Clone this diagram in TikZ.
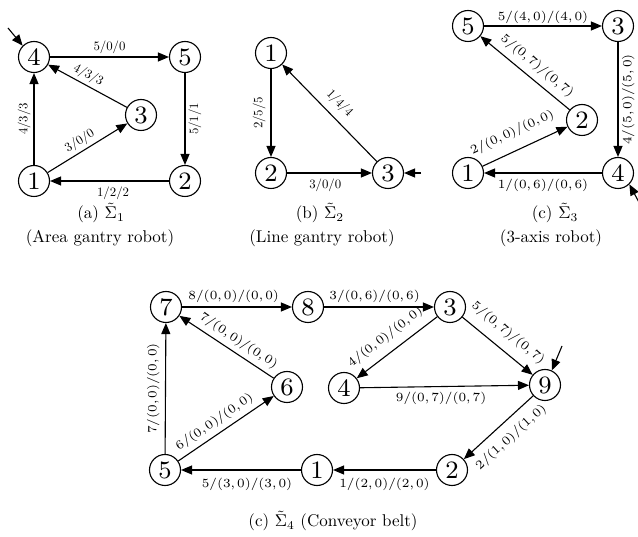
\documentclass[tikz,border=0pt]{standalone}
\usetikzlibrary{arrows.meta}
\font\nfnt="[lmroman8-regular]" at 25pt
\font\lfa="[lmroman10-regular]" at 12.8pt
\font\lfb="[lmroman6-regular]" at 12.5pt
\tikzset{
  st/.style={circle, draw, line width=1.1pt, minimum size=31pt, inner sep=0pt, font=\nfnt},
  ed/.style={-{Triangle[length=11pt,width=9pt]}, line width=1.1pt},
  la/.style={font=\lfa, inner sep=3pt},
  lb/.style={font=\lfb, inner sep=3pt},
  captxt/.style={scale=1.7, inner sep=0pt},
}
\begin{document}
\begin{tikzpicture}[x=1pt,y=-1pt]
\useasboundingbox (0,0) rectangle (638,537);
% ---------- (a)
\node[st] (a4) at (34,57) {4};
\node[st] (a5) at (185,57) {5};
\node[st] (a3) at (141,115) {3};
\node[st] (a1) at (34,181) {1};
\node[st] (a2) at (185,181) {2};
\coordinate (ai) at (8,28);
\draw[ed] (ai) -- (a4.135);
\draw[ed] (a4) -- node[la, above] {5/0/0} (a5);
\draw[ed] (a3) -- node[la, above, sloped, pos=0.55] {4/3/3} (a4);
\draw[ed] (a1) -- node[la, rotate=90, anchor=south] {4/3/3} (a4);
\draw[ed] (a1) -- node[la, above, sloped, pos=0.47] {3/0/0} (a3);
\draw[ed] (a5) -- node[la, rotate=90, anchor=north] {5/1/1} (a2);
\draw[ed] (a2) -- node[la, below, pos=0.47, inner sep=5pt] {1/2/2} (a1);
\node[captxt] (capa1) at (101,213) {(a) $\tilde{\Sigma}_1$};
\node[captxt] (capa2) at (100,238) {(Area gantry robot)};
% ---------- (b)
\node[st] (b1) at (271,53) {1};
\node[st] (b2) at (271,173) {2};
\node[st] (b3) at (388,173) {3};
\coordinate (bi) at (421,173);
\draw[ed] (bi) -- (b3);
\draw[ed] (b1) -- node[la, rotate=90, anchor=south, inner sep=5pt] {2/5/5} (b2);
\draw[ed] (b2) -- node[la, below, pos=0.45, inner sep=5pt] {3/0/0} (b3);
\draw[ed] (b3) -- node[la, above, sloped, pos=0.5, inner sep=7pt] {1/4/4} (b1);
\node[captxt] (capb1) at (320,213) {(b) $\tilde{\Sigma}_2$};
\node[captxt] (capb2) at (322,238) {(Line gantry robot)};
% ---------- (c)
\node[st] (c5) at (468,26) {5};
\node[st] (c3) at (618,26) {3};
\node[st] (c2) at (582,120) {2};
\node[st] (c1) at (468,173) {1};
\node[st] (c4) at (618,173) {4};
\coordinate (ci) at (641,206);
\draw[ed] (ci) -- (c4.-45);
\draw[ed] (c5) -- node[lb, above, inner sep=2pt] {5/(4,\,0)/(4,\,0)} (c3);
\draw[ed] (c2) -- node[lb, above, sloped, pos=0.46, inner sep=6.5pt] {5/(0,\,7)/(0,\,7)} (c5);
\draw[ed] (c1) -- node[lb, above, sloped, pos=0.44, inner sep=11pt] {2/(0,\,0)/(0,\,0)} (c2);
\draw[ed] (c3) -- node[lb, rotate=90, anchor=north, inner sep=3.5pt] {4/(5,\,0)/(5,\,0)} (c4);
\draw[ed] (c4) -- node[lb, below, inner sep=6pt] {1/(0,\,6)/(0,\,6)} (c1);
\node[captxt] (capc1) at (555,213) {(c) $\tilde{\Sigma}_3$};
\node[captxt] (capc2) at (551,238) {(3-axis robot)};
% ---------- (d)
\node[st] (d7) at (166,307) {7};
\node[st] (d8) at (308,307) {8};
\node[st] (d3) at (450,307) {3};
\node[st] (d6) at (287,387) {6};
\node[st] (d4) at (344,388) {4};
\node[st] (d9) at (545,385) {9};
\node[st] (d5) at (165,470) {5};
\node[st] (d1) at (317,470) {1};
\node[st] (d2) at (452,470) {2};
\coordinate (di) at (562,346);
\draw[ed] (di) -- (d9.65);
\draw[ed] (d7) -- node[lb, above, pos=0.47, inner sep=4pt] {8/(0,\,0)/(0,\,0)} (d8);
\draw[ed] (d8) -- node[lb, above, pos=0.46, inner sep=4pt] {3/(0,\,6)/(0,\,6)} (d3);
\draw[ed] (d6) -- node[lb, above, sloped, pos=0.44, inner sep=5pt] {7/(0,\,0)/(0,\,0)} (d7);
\draw[ed] (d5) -- node[lb, above, sloped, pos=0.45, inner sep=5pt] {6/(0,\,0)/(0,\,0)} (d6);
\draw[ed] (d5) -- node[lb, rotate=90, anchor=south, inner sep=5.5pt] {7/(0,\,0)/(0,\,0)} (d7);
\draw[ed] (d3) -- node[lb, above, sloped, pos=0.53, inner sep=8.5pt] {4/(0,\,0)/(0,\,0)} (d4);
\draw[ed] (d3) -- node[lb, above, sloped, pos=0.5, inner sep=10pt] {5/(0,\,7)/(0,\,7)} (d9);
\draw[ed] (d4) -- node[lb, below, pos=0.48, inner sep=5pt] {9/(0,\,7)/(0,\,7)} (d9);
\draw[ed] (d9) -- node[lb, below, sloped, pos=0.47, inner sep=9pt] {2/(1,\,0)/(1,\,0)} (d2);
\draw[ed] (d2) -- node[lb, below, pos=0.5, inner sep=8pt] {1/(2,\,0)/(2,\,0)} (d1);
\draw[ed] (d1) -- node[lb, below, pos=0.45, inner sep=8pt] {5/(3,\,0)/(3,\,0)} (d5);
\node[captxt] (capd) at (333,521) {(c) $\tilde{\Sigma}_4$ (Conveyor belt)};
\end{tikzpicture}
\end{document}
